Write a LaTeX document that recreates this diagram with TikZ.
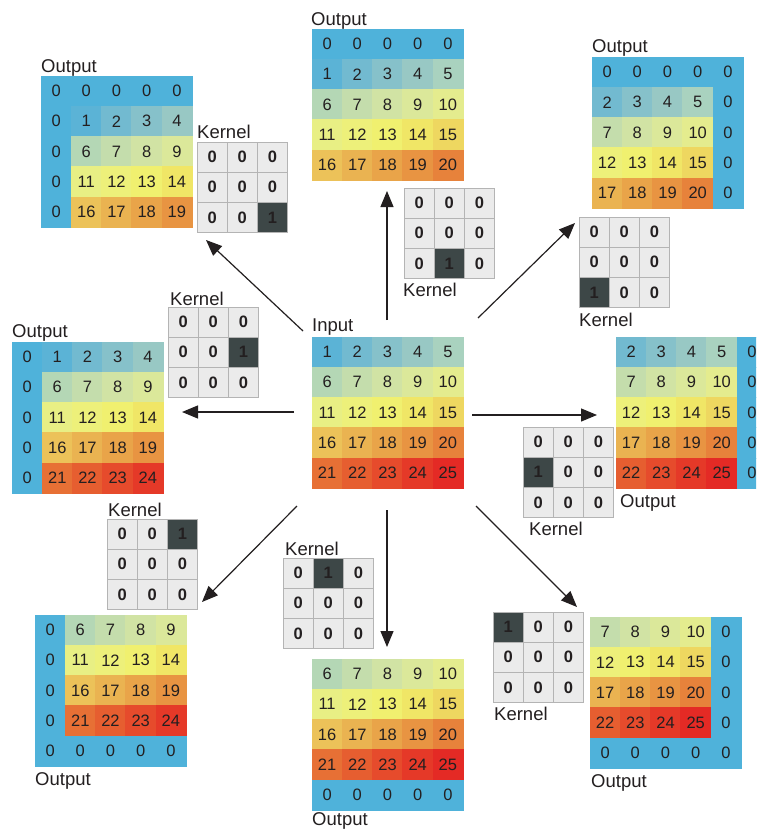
\documentclass[tikz,border=0pt]{standalone}
\usepackage{fontspec}
\setmainfont{Liberation Sans}
\usetikzlibrary{arrows.meta}
\definecolor{c0}{HTML}{4FB2DA}
\definecolor{c1}{HTML}{5BB3D6}
\definecolor{c2}{HTML}{72BAD0}
\definecolor{c3}{HTML}{86C1CA}
\definecolor{c4}{HTML}{98C8C4}
\definecolor{c5}{HTML}{A9D2BF}
\definecolor{c6}{HTML}{B4D7B5}
\definecolor{c7}{HTML}{C4DDAC}
\definecolor{c8}{HTML}{D1E3A4}
\definecolor{c9}{HTML}{DBE89A}
\definecolor{c10}{HTML}{E4EC8E}
\definecolor{c11}{HTML}{E8EF84}
\definecolor{c12}{HTML}{EDF07A}
\definecolor{c13}{HTML}{F0F06F}
\definecolor{c14}{HTML}{F0E666}
\definecolor{c15}{HTML}{EED760}
\definecolor{c16}{HTML}{ECC259}
\definecolor{c17}{HTML}{EAB351}
\definecolor{c18}{HTML}{E9A449}
\definecolor{c19}{HTML}{E89442}
\definecolor{c20}{HTML}{E7823B}
\definecolor{c21}{HTML}{E77035}
\definecolor{c22}{HTML}{E65E30}
\definecolor{c23}{HTML}{E64B2C}
\definecolor{c24}{HTML}{E53928}
\definecolor{c25}{HTML}{E42A25}
\definecolor{txt}{HTML}{231F20}
\definecolor{kfill}{HTML}{EBEBEB}
\definecolor{kline}{HTML}{B4B4B4}
\definecolor{kdark}{HTML}{3D4747}
\newcommand\fmgrid[4]{%
  \foreach \row [count=\r] in {#4}{%
    \foreach \v [count=\c] in \row{%
      \node[cell, fill=c\v, draw=c\v] (#1-\r-\c) at ({#2+(\c-0.5)*30.2},{#3+(\r-0.5)*30.2}) {\v};
    }%
  }%
}
\newcommand\fmkernel[5]{%
  \foreach \r in {1,2,3}{%
    \foreach \c in {1,2,3}{%
      \def\kv{0}\def\kf{kfill}%
      \ifnum\r=#4 \ifnum\c=#5 \def\kv{1}\def\kf{kdark}\fi\fi
      \node[kcell, fill=\kf] (#1-\r-\c) at ({#2+(\c-0.5)*30.2},{#3+(\r-0.5)*30.2}) {\kv};
    }%
  }%
}
\begin{document}
\begin{tikzpicture}[x=1pt,y=-1pt,
  cell/.style={minimum width=30.2pt, minimum height=30.2pt, inner sep=0pt, outer sep=0pt,
    line width=0.4pt, text=txt, font=\fontsize{16.5}{19}\selectfont},
  kcell/.style={minimum width=30.2pt, minimum height=30.2pt, inner sep=0pt, outer sep=0pt,
    draw=kline, line width=1pt, text=txt, font=\fontsize{16.5}{19}\selectfont\bfseries},
  lbl/.style={anchor=base west, inner sep=0pt, text=txt, font=\fontsize{18.5}{21}\selectfont},
  arr/.style={draw=txt, line width=1.2pt, -{Triangle[length=16pt,width=13pt]}}]
\clip (0,0) rectangle (756,830);
\fill[white] (0,0) rectangle (756,830);

% Input
\fmgrid{in}{312}{337}{{1,2,3,4,5},{6,7,8,9,10},{11,12,13,14,15},{16,17,18,19,20},{21,22,23,24,25}}
\node[lbl] (lin) at (312,331) {Input};

% top-left
\fmgrid{otl}{41}{76}{{0,0,0,0,0},{0,1,2,3,4},{0,6,7,8,9},{0,11,12,13,14},{0,16,17,18,19}}
\node[lbl] (lotl) at (41,72) {Output};
\fmkernel{ktl}{197}{142}{3}{3}
\node[lbl] (lktl) at (197,138) {Kernel};

% top
\fmgrid{ot}{312}{29}{{0,0,0,0,0},{1,2,3,4,5},{6,7,8,9,10},{11,12,13,14,15},{16,17,18,19,20}}
\node[lbl] (lot) at (311,25) {Output};
\fmkernel{kt}{404}{188}{3}{2}
\node[lbl] (lkt) at (403,296) {Kernel};

% top-right
\fmgrid{otr}{592}{57}{{0,0,0,0,0},{2,3,4,5,0},{7,8,9,10,0},{12,13,14,15,0},{17,18,19,20,0}}
\node[lbl] (lotr) at (592,52) {Output};
\fmkernel{ktr}{579}{217}{3}{1}
\node[lbl] (lktr) at (579,326) {Kernel};

% left
\fmgrid{ol}{12}{342}{{0,1,2,3,4},{0,6,7,8,9},{0,11,12,13,14},{0,16,17,18,19},{0,21,22,23,24}}
\node[lbl] (lol) at (12,337) {Output};
\fmkernel{kl}{168}{307}{2}{3}
\node[lbl] (lkl) at (170,305) {Kernel};

% right
\fmgrid{or}{616}{337}{{2,3,4,5,0},{7,8,9,10,0},{12,13,14,15,0},{17,18,19,20,0},{22,23,24,25,0}}
\node[lbl] (lor) at (620,507) {Output};
\fmkernel{kr}{523}{427}{2}{1}
\node[lbl] (lkr) at (529,535) {Kernel};

% bottom-left
\fmgrid{obl}{35}{615}{{0,6,7,8,9},{0,11,12,13,14},{0,16,17,18,19},{0,21,22,23,24},{0,0,0,0,0}}
\node[lbl] (lobl) at (35,785) {Output};
\fmkernel{kbl}{107}{519}{1}{3}
\node[lbl] (lkbl) at (108,516) {Kernel};

% bottom
\fmgrid{ob}{312}{659}{{6,7,8,9,10},{11,12,13,14,15},{16,17,18,19,20},{21,22,23,24,25},{0,0,0,0,0}}
\node[lbl] (lob) at (312,825) {Output};
\fmkernel{kb}{283}{558}{1}{2}
\node[lbl] (lkb) at (285,555) {Kernel};

% bottom-right
\fmgrid{obr}{590}{617}{{7,8,9,10,0},{12,13,14,15,0},{17,18,19,20,0},{22,23,24,25,0},{0,0,0,0,0}}
\node[lbl] (lobr) at (591,787) {Output};
\fmkernel{kbr}{493}{612}{1}{1}
\node[lbl] (lkbr) at (494,720) {Kernel};

% arrows
\coordinate (stl) at (303,331); \coordinate (etl) at (206,240);
\coordinate (st) at (387,320);  \coordinate (et) at (387,191);
\coordinate (str) at (478,318); \coordinate (etr) at (575,223);
\coordinate (sl) at (294,412);  \coordinate (el) at (182,412);
\coordinate (sr) at (472,415);  \coordinate (er) at (597,415);
\coordinate (sbl) at (297,506); \coordinate (ebl) at (202,602);
\coordinate (sb) at (387,510);  \coordinate (eb) at (387,647);
\coordinate (sbr) at (476,506); \coordinate (ebr) at (577,607);
\draw[arr] (stl) -- (etl);
\draw[arr] (st) -- (et);
\draw[arr] (str) -- (etr);
\draw[arr] (sl) -- (el);
\draw[arr] (sr) -- (er);
\draw[arr] (sbl) -- (ebl);
\draw[arr] (sb) -- (eb);
\draw[arr] (sbr) -- (ebr);
\end{tikzpicture}
\end{document}
